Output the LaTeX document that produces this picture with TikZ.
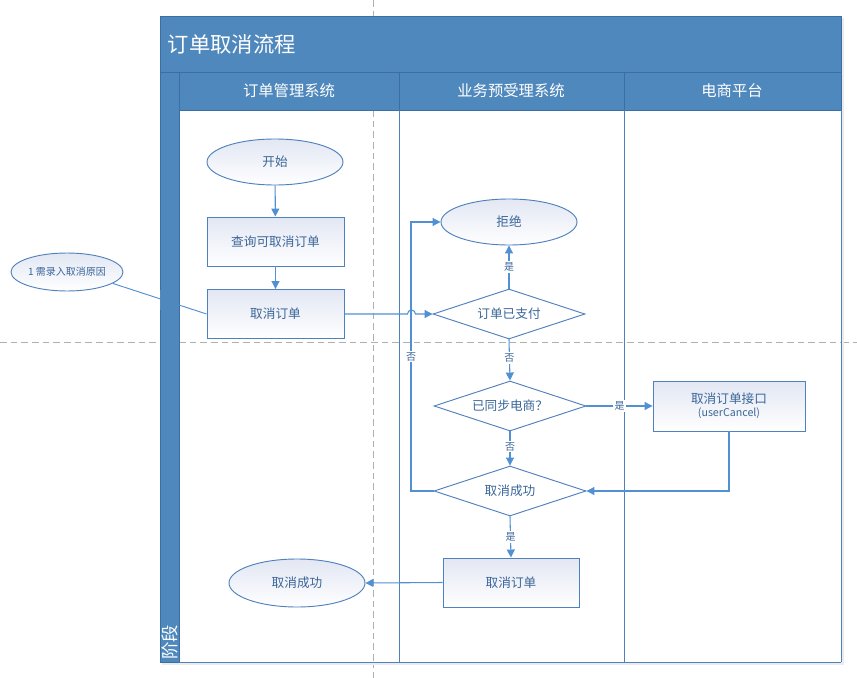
\documentclass[tikz,border=0pt]{standalone}
\usepackage{fontspec}
\setmainfont{Noto Sans CJK SC}
\usetikzlibrary{shapes.geometric,arrows.meta}
\definecolor{hdr}{HTML}{4F88BC}
\definecolor{hdrline}{HTML}{3A6EA5}
\definecolor{nb}{HTML}{4F81BD}
\definecolor{ln}{HTML}{5090D3}
\definecolor{tx}{HTML}{3B6699}
\definecolor{shd}{HTML}{E2E7F3}
\definecolor{dsh}{HTML}{B0B0B0}
\tikzset{
  px/.style={x=0.75pt,y=-0.75pt},
  nodebase/.style={draw=nb,line width=0.7pt,text=tx,font=\fontsize{9.5}{11}\selectfont,
    top color=shd,bottom color=white,inner sep=0pt,align=center},
  ell/.style={nodebase,ellipse,minimum width=136*0.75pt,minimum height=46*0.75pt},
  boxn/.style={nodebase,rectangle,minimum width=137*0.75pt,minimum height=49*0.75pt},
  dia/.style={nodebase,diamond,minimum width=152*0.75pt,minimum height=50*0.75pt,shape aspect=3,top color=white,bottom color=white},
  conn/.style={draw=ln,line width=0.8pt,-{Triangle[length=6pt,width=6pt]}},
  plain/.style={draw=ln,line width=0.8pt},
  lbl/.style={fill=white,text=tx,font=\fontsize{7.5}{9}\selectfont,inner sep=1pt},
  hdrtext/.style={text=white,font=\fontsize{11.5}{13}\selectfont},
}
\begin{document}
\begin{tikzpicture}[px]
\useasboundingbox (0,0) rectangle (857,678);
% guide dashed lines
\draw[dsh,dashed,line width=0.6pt,dash pattern=on 5pt off 3pt] (373,0) -- (373,678);
\draw[dsh,dashed,line width=0.6pt,dash pattern=on 5pt off 3pt] (0,342) -- (857,342);
% swimlane frame
\fill[black!8] (162,18) rectangle (844,665);
\fill[white] (160,16) rectangle (841,662);
\draw[dsh,dashed,line width=0.6pt,dash pattern=on 5pt off 3pt] (373,110) -- (373,662);
\draw[dsh,dashed,line width=0.6pt,dash pattern=on 5pt off 3pt] (179,342) -- (841,342);
\filldraw[fill=hdr,draw=hdrline,line width=0.6pt] (160,16) rectangle (841,72);
\filldraw[fill=hdr,draw=hdrline,line width=0.6pt] (179,72) rectangle (399,110);
\filldraw[fill=hdr,draw=hdrline,line width=0.6pt] (399,72) rectangle (624,110);
\filldraw[fill=hdr,draw=hdrline,line width=0.6pt] (624,72) rectangle (841,110);
\filldraw[fill=hdr,draw=hdrline,line width=0.6pt] (160,72) rectangle (179,662);
\draw[nb,line width=0.6pt] (399,110) -- (399,662) (624,110) -- (624,662) (841,110) -- (841,662) (179,662) -- (841,662);
\node[text=white,font=\fontsize{16}{18}\selectfont,anchor=west] (title) at (163,44) {订单取消流程};
\node[hdrtext] (lane1) at (289,91) {订单管理系统};
\node[hdrtext] (lane2) at (511,91) {业务预受理系统};
\node[hdrtext] (lane3) at (732,91) {电商平台};
\node[text=white,font=\fontsize{13}{15}\selectfont,rotate=90,anchor=west,inner sep=1pt] (stage) at (169.5,661) {阶段};
% note
\node[ell,minimum width=112*0.75pt,minimum height=38*0.75pt,font=\fontsize{7.5}{9}\selectfont] (note) at (67,272) {1 需录入取消原因};
% nodes
\node[ell] (start) at (275,162) {开始};
\node[boxn] (query) at (275.5,241.5) {查询可取消订单};
\node[boxn] (cancel1) at (275.5,314) {取消订单};
\node[ell] (reject) at (509,222) {拒绝};
\node[dia] (paid) at (509,314) {订单已支付};
\node[dia] (sync) at (510,406) {已同步电商？};
\node[boxn,minimum width=152*0.75pt,minimum height=50*0.75pt] (api) at (729,406) {取消订单接口\\[-1pt]{\fontsize{8}{10}\selectfont (userCancel)}};
\node[dia] (ok) at (510,491) {取消成功};
\node[boxn,minimum width=136*0.75pt] (cancel2) at (511,582.5) {取消订单};
\node[ell,minimum height=48*0.75pt] (done) at (297,583) {取消成功};
% note line (behind stripe look)
\draw[draw=ln,line width=0.7pt] (note.-14) -- (cancel1.west);
\fill[hdr] (160.3,290) rectangle (178.7,310);
% connectors
\draw[conn] (start) -- (query);
\draw[conn] (query) -- (cancel1);
\draw[conn] (cancel1.east) -- ++(63,0) arc[start angle=180,end angle=0,radius=3pt] -- (paid.west);
\draw[conn] (paid.north) -- node[lbl,pos=0.5] (l1) {是} (reject.south);
\draw[conn] (paid.south) -- node[lbl,pos=0.45] (l2) {否} (sync.north);
\draw[conn] (sync.east) -- node[lbl,pos=0.5] (l3) {是} (api.west);
\draw[conn] (sync.south) -- node[lbl,pos=0.45] (l4) {否} (ok.north);
\draw[conn] (api.south) |- (ok.east);
\draw[conn] (ok.west) -- (411,491) -- node[lbl,pos=0.5] (l5) {否} (411,222) -- (reject.west);
\draw[conn] (ok.south) -- node[lbl,pos=0.5] (l6) {是} (cancel2.north);
\draw[conn] (cancel2.west) -- (done.east);
\end{tikzpicture}
\end{document}
